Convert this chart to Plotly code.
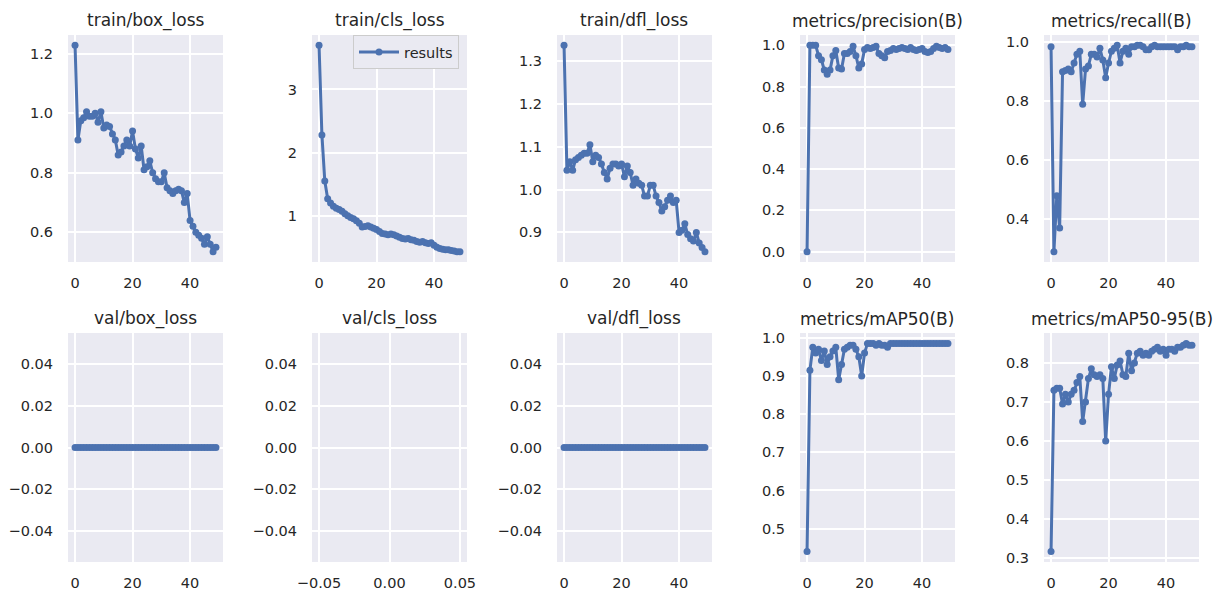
import plotly.graph_objects as go

epochs = list(range(50))

train_box_loss = [1.228, 0.91, 0.975, 0.985, 1.005, 0.99, 0.99, 1.0, 0.97, 1.005,
                  0.95, 0.96, 0.955, 0.93, 0.91, 0.86, 0.87, 0.89, 0.91, 0.89,
                  0.94, 0.88, 0.85, 0.89, 0.81, 0.82, 0.84, 0.80, 0.78, 0.77,
                  0.77, 0.80, 0.75, 0.74, 0.73, 0.74, 0.745, 0.74, 0.70, 0.73,
                  0.64, 0.62, 0.60, 0.59, 0.58, 0.56, 0.585, 0.56, 0.535, 0.55]
train_cls_loss = [3.70, 2.28, 1.55, 1.27, 1.20, 1.15, 1.12, 1.10, 1.07, 1.03,
                  1.00, 0.97, 0.95, 0.92, 0.88, 0.82, 0.83, 0.84, 0.82, 0.80,
                  0.78, 0.75, 0.72, 0.71, 0.70, 0.71, 0.70, 0.68, 0.66, 0.64,
                  0.63, 0.64, 0.62, 0.61, 0.59, 0.58, 0.59, 0.57, 0.56, 0.57,
                  0.53, 0.50, 0.48, 0.47, 0.46, 0.46, 0.45, 0.44, 0.43, 0.43]
train_dfl_loss = [1.337, 1.045, 1.065, 1.045, 1.07, 1.075, 1.08, 1.085, 1.085, 1.105,
                  1.065, 1.08, 1.075, 1.06, 1.04, 1.025, 1.05, 1.06, 1.06, 1.055,
                  1.06, 1.03, 1.055, 1.04, 1.01, 1.025, 1.015, 1.01, 0.985, 0.985,
                  1.01, 1.01, 0.985, 0.97, 0.95, 0.96, 0.975, 0.985, 0.97, 0.975,
                  0.90, 0.905, 0.92, 0.895, 0.885, 0.88, 0.90, 0.875, 0.865, 0.855]
precision = [0.0, 1.0, 1.0, 1.0, 0.95, 0.93, 0.88, 0.86, 0.88, 0.95,
             0.975, 0.89, 0.885, 0.96, 0.96, 0.97, 0.995, 0.95, 0.89, 0.91,
             0.98, 0.99, 0.985, 0.99, 0.995, 0.96, 0.95, 0.94, 0.97, 0.975,
             0.985, 0.98, 0.985, 0.99, 0.985, 0.98, 0.99, 0.98, 0.975, 0.98,
             0.985, 0.97, 0.965, 0.97, 0.985, 0.995, 0.99, 0.985, 0.99, 0.98]
recall = [0.985, 0.29, 0.48, 0.37, 0.90, 0.905, 0.91, 0.90, 0.93, 0.96,
          0.97, 0.79, 0.91, 0.92, 0.96, 0.96, 0.95, 0.98, 0.94, 0.88,
          0.93, 0.97, 0.98, 0.99, 0.93, 0.97, 0.98, 0.96, 0.985, 0.985,
          0.99, 0.99, 0.985, 0.975, 0.975, 0.985, 0.99, 0.985, 0.985, 0.985,
          0.985, 0.985, 0.985, 0.985, 0.975, 0.985, 0.985, 0.99, 0.985, 0.985]
val_box_loss = [0.0] * 50
val_cls_loss = [None] * 50
val_dfl_loss = [0.0] * 50
map50 = [0.44, 0.915, 0.975, 0.96, 0.97, 0.94, 0.965, 0.93, 0.95, 0.965,
         0.975, 0.89, 0.93, 0.97, 0.975, 0.98, 0.98, 0.97, 0.95, 0.90,
         0.96, 0.985, 0.985, 0.985, 0.98, 0.985, 0.98, 0.98, 0.975, 0.985,
         0.985, 0.985, 0.985, 0.985, 0.985, 0.985, 0.985, 0.985, 0.985, 0.985,
         0.985, 0.985, 0.985, 0.985, 0.985, 0.985, 0.985, 0.985, 0.985, 0.985]
map50_95 = [0.317, 0.73, 0.735, 0.735, 0.695, 0.72, 0.70, 0.72, 0.73, 0.75,
            0.765, 0.65, 0.70, 0.76, 0.785, 0.77, 0.765, 0.77, 0.76, 0.60,
            0.72, 0.79, 0.76, 0.795, 0.805, 0.77, 0.765, 0.825, 0.78, 0.80,
            0.825, 0.83, 0.82, 0.825, 0.82, 0.83, 0.835, 0.84, 0.83, 0.835,
            0.82, 0.835, 0.835, 0.83, 0.84, 0.84, 0.845, 0.85, 0.845, 0.845]

titles = ["train/box_loss", "train/cls_loss", "train/dfl_loss", "metrics/precision(B)", "metrics/recall(B)",
          "val/box_loss", "val/cls_loss", "val/dfl_loss", "metrics/mAP50(B)", "metrics/mAP50-95(B)"]
series = [train_box_loss, train_cls_loss, train_dfl_loss, precision, recall,
          val_box_loss, val_cls_loss, val_dfl_loss, map50, map50_95]
ytick_steps = [0.2, 1, 0.1, 0.2, 0.2, 0.02, 0.02, 0.02, 0.1, 0.1]
ytick_formats = [".1f", "d", ".1f", ".1f", ".1f", ".2f", ".2f", ".2f", ".1f", ".1f"]

W, H = 1219, 594
col_left = [68, 312, 557, 800, 1044]
panel_w = 155
row_top = [35, 333]
row_bot = [262, 562]

BLUE = "#4C72B0"
TXT = "#262626"
FONT = "DejaVu Sans"


def padded(vals):
    v = [a for a in vals if a is not None]
    if not v:
        return [-0.055, 0.055]
    lo, hi = min(v), max(v)
    if hi == lo:
        lo, hi = lo - 0.05, hi + 0.05
    m = 0.05 * (hi - lo)
    return [lo - m, hi + m]


fig = go.Figure()
annotations = []
for i, (title, ys) in enumerate(zip(titles, series)):
    r, c = divmod(i, 5)
    n = "" if i == 0 else str(i + 1)
    xd = [col_left[c] / W, (col_left[c] + panel_w) / W]
    yd = [1 - row_bot[r] / H, 1 - row_top[r] / H]
    has_data = any(v is not None for v in ys)
    fig.add_trace(go.Scatter(
        x=epochs, y=ys, mode="lines+markers", name="results",
        line=dict(color=BLUE, width=3), marker=dict(color=BLUE, size=7),
        showlegend=(i == 1), xaxis="x" + n, yaxis="y" + n,
    ))
    xr = padded(epochs) if has_data else [-0.055, 0.055]
    common = dict(showgrid=True, gridcolor="white", gridwidth=1.5, zeroline=False,
                  showline=False, ticks="", automargin=False,
                  tickfont=dict(family=FONT, size=14.5, color=TXT), fixedrange=True)
    if has_data:
        xax = dict(domain=xd, range=xr, tickmode="array", tickvals=[0, 20, 40],
                   anchor="y" + n, ticklabelstandoff=10, **common)
    else:
        xax = dict(domain=xd, range=xr, dtick=0.05, tick0=0, tickformat=".2f",
                   anchor="y" + n, ticklabelstandoff=10, **common)
    yax = dict(domain=yd, range=padded(ys), dtick=ytick_steps[i], tick0=0,
               tickformat=ytick_formats[i], anchor="x" + n, ticklabelstandoff=14, **common)
    fig.layout["xaxis" + n] = xax
    fig.layout["yaxis" + n] = yax
    annotations.append(dict(text=title, x=(xd[0] + xd[1]) / 2, y=yd[1], xref="paper", yref="paper",
                            xanchor="center", yanchor="bottom", yshift=2, showarrow=False,
                            font=dict(family=FONT, size=17, color=TXT)))

fig.update_layout(
    template="none",
    width=W, height=H, margin=dict(l=0, r=0, t=0, b=0, autoexpand=False),
    paper_bgcolor="white", plot_bgcolor="#EAEAF2",
    annotations=annotations,
    legend=dict(x=459 / W, y=1 - 35 / H, xanchor="right", yanchor="top",
                bgcolor="#EAEAF2", bordercolor="#CCCCCC", borderwidth=1,
                itemwidth=40,
                font=dict(family=FONT, size=14.5, color=TXT)),
    font=dict(family=FONT, color=TXT),
)

fig.write_html("out.html", config={"displayModeBar": False},
               post_script="document.body.style.margin='0';document.body.style.overflow='hidden';")
